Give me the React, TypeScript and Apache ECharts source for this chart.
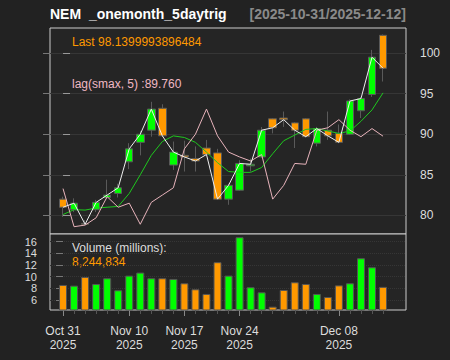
import React, { useEffect, useRef } from "react";
import * as echarts from "echarts";

const DATES = [
  "2025-10-31", "2025-11-03", "2025-11-04", "2025-11-05", "2025-11-06", "2025-11-07",
  "2025-11-10", "2025-11-11", "2025-11-12", "2025-11-13", "2025-11-14",
  "2025-11-17", "2025-11-18", "2025-11-19", "2025-11-20", "2025-11-21",
  "2025-11-24", "2025-11-25", "2025-11-26", "2025-11-28",
  "2025-12-01", "2025-12-02", "2025-12-03", "2025-12-04", "2025-12-05",
  "2025-12-08", "2025-12-09", "2025-12-10", "2025-12-11", "2025-12-12",
];
const OPEN = [82.0, 80.7, 79.0, 80.7, 82.2, 82.7, 86.6, 89.0, 90.5, 93.2, 86.2, 87.4, 87.0, 88.3, 87.7, 82.0, 83.1, 86.1, 87.2, 91.9, 92.0, 91.4, 91.9, 88.9, 90.5, 90.1, 90.0, 92.9, 94.9, 102.2];
const HIGH = [82.3, 82.1, 79.4, 81.9, 84.4, 83.9, 88.9, 90.4, 94.0, 93.7, 89.1, 89.2, 88.5, 89.3, 88.2, 83.9, 86.8, 87.0, 90.9, 92.0, 92.8, 91.5, 92.0, 90.9, 92.8, 91.2, 94.3, 94.6, 100.4, 102.3];
const LOW = [79.8, 80.4, 78.8, 80.4, 82.0, 82.2, 85.7, 87.4, 89.7, 89.7, 85.6, 85.4, 85.4, 87.4, 82.0, 81.3, 83.0, 85.4, 87.1, 90.1, 90.9, 88.3, 89.6, 88.5, 89.3, 88.9, 89.9, 92.0, 94.6, 96.5];
const CLOSE = [81.0, 81.5, 78.9, 81.6, 82.5, 83.4, 88.2, 90.0, 93.1, 89.8, 87.8, 87.2, 86.7, 87.5, 82.0, 83.7, 86.4, 86.3, 90.5, 90.8, 91.8, 90.5, 89.7, 90.7, 89.8, 89.0, 94.1, 94.4, 99.5, 98.14];
const SMA_LINE = [80.1, 80.7, 80.65, 80.9, 81.0, 81.1, 82.7, 85.0, 87.4, 89.1, 89.8, 89.6, 89.0, 87.8, 86.5, 85.4, 85.3, 85.3, 85.9, 87.6, 89.2, 89.9, 90.6, 90.7, 90.4, 90.1, 90.4, 91.6, 93.0, 95.1];
const LAG_SMAX = [83.3, 78.6, 78.8, 79.7, 82.3, 81.0, 81.5, 78.9, 81.6, 82.5, 83.4, 88.2, 90.0, 93.1, 89.8, 87.8, 87.2, 86.7, 87.5, 82.0, 83.7, 86.4, 86.3, 90.5, 90.8, 91.8, 90.5, 89.7, 90.7, 89.76];
const VOLUME_M = [8.57, 8.45, 9.94, 8.74, 9.72, 7.66, 10.17, 10.69, 9.72, 9.72, 9.6, 8.86, 7.83, 7.03, 12.47, 10.17, 16.75, 8.18, 7.31, 4.85, 7.71, 9.03, 8.74, 7.03, 6.51, 8.5, 8.86, 13.15, 11.6, 8.24];
const LAST_VOLUME = 8244834;
const LAST_PRICE_TEXT = "98.1399993896484";
const LAG_LAST_TEXT = "89.760";
const PRICE_TICKS = [80, 85, 90, 95, 100];
const VOLUME_TICKS = [6, 8, 10, 12, 14, 16];
const LABEL_INDICES = [0, 6, 11, 16, 25];

const MONTHS = ["Jan", "Feb", "Mar", "Apr", "May", "Jun", "Jul", "Aug", "Sep", "Oct", "Nov", "Dec"];
function dateLabel(i: number): string {
  const d = DATES[i];
  if (!d) return "";
  const [y, m, dd] = d.split("-");
  return MONTHS[parseInt(m, 10) - 1] + " " + dd + "\n" + y;
}

const UP = "#00ff00";
const DOWN = "#ff9900";
const FONT = "'Liberation Sans', Arial, Helvetica, sans-serif";
const XMIN = -1.18;
const XMAX = 31.08;

export default function App() {
  const ref = useRef<HTMLDivElement>(null);
  useEffect(() => {
    if (!ref.current) return;
    const chart = echarts.init(ref.current, null, { renderer: "svg" });
    const idx = DATES.map((_, i) => i);
    const candles = idx.map((i) => [i, OPEN[i], CLOSE[i], LOW[i], HIGH[i]]);
    const vols = idx.map((i) => ({
      value: [i, VOLUME_M[i]],
      itemStyle: { color: CLOSE[i] >= OPEN[i] ? UP : DOWN },
    }));
    const option: any = {
      animation: false,
      backgroundColor: "#222222",
      textStyle: { fontFamily: FONT },
      grid: [
        { left: 50, right: 44, top: 28, height: 206, show: true, backgroundColor: "#252525", borderColor: "#cccccc", borderWidth: 1 },
        { left: 50, right: 44, top: 234, height: 76, show: true, backgroundColor: "#252525", borderColor: "#cccccc", borderWidth: 1 },
      ],
      xAxis: [
        { type: "value", gridIndex: 0, min: XMIN, max: XMAX, show: false },
        {
          type: "value", gridIndex: 1, min: XMIN, max: XMAX, position: "bottom",
          axisLine: { show: false },
          axisTick: { show: true, customValues: idx, length: 4, lineStyle: { color: "#555555" } },
          axisLabel: { show: false },
          splitLine: { show: false },
        },
        {
          type: "value", gridIndex: 1, min: XMIN, max: XMAX, position: "bottom", offset: 0,
          axisLine: { show: false },
          axisTick: { show: true, customValues: LABEL_INDICES, length: 6, lineStyle: { color: "#888888" } },
          axisLabel: {
            show: true, customValues: LABEL_INDICES, formatter: (v: number) => dateLabel(Math.round(v)),
            color: "#dddddd", fontSize: 12, lineHeight: 14, margin: 14, fontFamily: FONT,
          },
          splitLine: { show: false },
        },
      ],
      yAxis: [
        {
          type: "value", gridIndex: 0, position: "right", min: 77.7, max: 103.1,
          axisLine: { show: false },
          axisTick: { show: true, customValues: PRICE_TICKS, length: 7, lineStyle: { color: "#999999" } },
          axisLabel: { show: true, customValues: PRICE_TICKS, color: "#dddddd", fontSize: 12, margin: 14, fontFamily: FONT },
          splitLine: { show: true, lineStyle: { color: "#363636", width: 1 } },
        },
        {
          type: "value", gridIndex: 0, position: "left", min: 77.7, max: 103.1,
          axisLine: { show: false },
          axisTick: { show: true, customValues: PRICE_TICKS, length: 7, lineStyle: { color: "#777777" } },
          axisLabel: { show: false },
          splitLine: { show: false },
        },
        {
          type: "value", gridIndex: 1, position: "left", min: 4.28, max: 17.3,
          axisLine: { show: false },
          axisTick: { show: true, customValues: VOLUME_TICKS, length: 7, lineStyle: { color: "#777777" } },
          axisLabel: {
            show: true, customValues: VOLUME_TICKS, color: "#dddddd", fontSize: 11, lineHeight: 11,
            margin: 13, fontFamily: FONT, showMinLabel: true, showMaxLabel: true, hideOverlap: false,
          },
          splitLine: { show: true, lineStyle: { color: "#363636", type: "dotted" } },
        },
      ],
      series: [
        {
          type: "candlestick", xAxisIndex: 0, yAxisIndex: 0,
          dimensions: ["idx", "open", "close", "lowest", "highest"],
          encode: { x: "idx", y: ["open", "close", "lowest", "highest"] },
          data: candles, barWidth: 8,
          itemStyle: { color: UP, color0: DOWN, borderColor: "#5a5a5a", borderColor0: "#5a5a5a", borderWidth: 1 },
          z: 2,
        },
        {
          type: "line", xAxisIndex: 0, yAxisIndex: 0, data: idx.map((i) => [i, SMA_LINE[i]]),
          symbol: "none", lineStyle: { color: "#1ec81e", width: 1 }, z: 3,
        },
        {
          type: "line", xAxisIndex: 0, yAxisIndex: 0, data: idx.map((i) => [i, LAG_SMAX[i]]),
          symbol: "none", lineStyle: { color: "#e8b4bc", width: 1 }, z: 3,
        },
        {
          type: "line", xAxisIndex: 0, yAxisIndex: 0, data: idx.map((i) => [i, CLOSE[i]]),
          symbol: "none", lineStyle: { color: "#eeeeee", width: 1 }, z: 4,
        },
        {
          type: "bar", xAxisIndex: 2, yAxisIndex: 2, data: vols, barWidth: 8, clip: true,
          itemStyle: { borderColor: "#555555", borderWidth: 1 },
        },
      ],
      graphic: [
        { type: "text", left: 50, top: 7, style: { text: "NEM  _onemonth_5daytrig", fill: "#ffffff", font: "bold 14px " + FONT } },
        { type: "text", right: 44, top: 7, style: { text: "[2025-10-31/2025-12-12]", fill: "#8a8a8a", font: "bold 14px " + FONT } },
        { type: "text", left: 72, top: 36, style: { text: "Last " + LAST_PRICE_TEXT, fill: DOWN, font: "12px " + FONT } },
        { type: "text", left: 72, top: 78, style: { text: "lag(smax, 5) :" + LAG_LAST_TEXT, fill: "#f0b8c4", font: "12px " + FONT } },
        { type: "text", left: 72, top: 242, style: { text: "Volume (millions):", fill: "#dddddd", font: "12px " + FONT } },
        { type: "text", left: 72, top: 256, style: { text: LAST_VOLUME.toLocaleString("en-US"), fill: DOWN, font: "12px " + FONT } },
      ],
    };
    chart.setOption(option);
    return () => chart.dispose();
  }, []);
  return <div ref={ref} style={{ position: "fixed", left: 0, top: 0, width: 450, height: 360 }} />;
}
